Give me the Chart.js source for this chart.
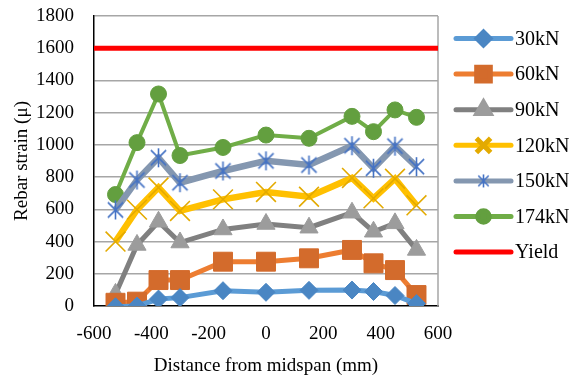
<!DOCTYPE html>
<html>
<head>
<meta charset="utf-8">
<script src="https://cdn.jsdelivr.net/npm/chart.js@4/dist/chart.umd.min.js"></script>
<style>
  body { margin: 0; background: #fff; }
  #wrap { width: 575px; height: 383px; }
</style>
</head>
<body>
<div id="wrap"><canvas id="myChart" width="575" height="383"></canvas></div>
<script>
// gauge positions along the beam (mm from midspan)
let positions = [-525, -450, -375, -300, -150, 0, 150, 300, 375, 450, 525];

// rebar strain readings for each load step
let strain30 = [-5, 0, 43, 52, 95, 85, 97, 99, 90, 65, 15];
let strain60 = [20, 27, 161, 161, 275, 275, 296, 348, 265, 223, 68];
let strain90 = [75, 379, 523, 394, 475, 509, 486, 579, 461, 513, 348];
let strain120 = [400, 598, 735, 590, 662, 708, 678, 795, 668, 790, 625];
let strain150 = [596, 782, 920, 765, 838, 901, 875, 995, 855, 992, 865];
let strain174 = [692, 1014, 1316, 934, 984, 1061, 1041, 1177, 1082, 1217, 1171];

// yield strain, drawn across the whole span
let yieldX = [-600, 600];
let yieldStrain = [1600, 1600];

let xTicks = [-600, -400, -200, 0, 200, 400, 600];
let yTicks = [0, 200, 400, 600, 800, 1000, 1200, 1400, 1600, 1800];

function toPoints(xs, ys) {
    let pts = [];
    for (let i = 0; i < xs.length; i++) {
        pts.push({x: xs[i], y: ys[i]});
    }
    return pts
}

// asterisk marker: vertical stroke plus an X
function makeStar(size, color) {
    let c = document.createElement('canvas');
    c.width = size;
    c.height = size;
    let g = c.getContext('2d');
    let h = size / 2;
    let a = h - 1;
    g.strokeStyle = color;
    g.lineWidth = 1.6;
    g.beginPath();
    g.moveTo(h, h - a); g.lineTo(h, h + a);
    g.moveTo(h - a * 0.8, h - a * 0.8); g.lineTo(h + a * 0.8, h + a * 0.8);
    g.moveTo(h + a * 0.8, h - a * 0.8); g.lineTo(h - a * 0.8, h + a * 0.8);
    g.stroke();
    return c
}

const FONT = 'Liberation Serif';

function series(label, ys, line, marker, style, radius, width, extra) {
    return Object.assign({
        label: label,
        data: toPoints(positions, ys),
        borderColor: line,
        backgroundColor: marker,
        pointBackgroundColor: marker,
        pointBorderColor: marker,
        pointStyle: style,
        pointRadius: radius,
        pointHoverRadius: radius,
        pointBorderWidth: 1,
        borderWidth: width,
        tension: 0
    }, extra || {});
}

// right edge of the plot frame
const frame = {
    id: 'frame',
    beforeDatasetsDraw(chart) {
        let a = chart.chartArea;
        let ctx = chart.ctx;
        ctx.save();
        ctx.strokeStyle = '#a6a6a6';
        ctx.lineWidth = 1.5;
        ctx.beginPath();
        ctx.moveTo(a.right, a.top);
        ctx.lineTo(a.right, a.bottom);
        ctx.stroke();
        ctx.restore();
    }
};

// legend on the right: short line with the marker in the middle
const sideLegend = {
    id: 'sideLegend',
    afterDraw(chart) {
        let ctx = chart.ctx;
        let x0 = chart.chartArea.right + 18;
        let x1 = x0 + 55;
        let top = 38.5;
        let step = 35.6;
        ctx.save();
        chart.data.datasets.forEach(function (ds, i) {
            let y = top + i * step;
            ctx.strokeStyle = ds.borderColor;
            ctx.lineWidth = 5;
            ctx.lineCap = 'round';
            ctx.beginPath();
            ctx.moveTo(x0, y);
            ctx.lineTo(x1, y);
            ctx.stroke();
            ctx.lineCap = 'butt';
            if (ds.pointRadius > 0) {
                ctx.fillStyle = ds.pointBackgroundColor;
                ctx.strokeStyle = ds.pointBorderColor;
                let st = ds.legendStyle || ds.pointStyle;
                Chart.helpers.drawPoint(ctx, {
                    pointStyle: st,
                    radius: ds.pointRadius * 0.72,
                    rotation: 0,
                    borderWidth: ds.pointBorderWidth
                }, (x0 + x1) / 2, y);
            }
            ctx.fillStyle = '#000';
            ctx.font = '20px "' + FONT + '"';
            ctx.textBaseline = 'middle';
            ctx.textAlign = 'left';
            ctx.fillText(ds.label, x1 + 4, y + 1);
        });
        ctx.restore();
    }
};

let ctx = document.getElementById('myChart').getContext('2d');
let myChart = new Chart(ctx, {
    type: 'line',
    data: {
        datasets: [
            series('30kN', strain30, '#5b9bd5', '#4a86c3', 'rectRot', 9, 5),
            series('60kN', strain60, '#ed7d31', '#d36b2c', 'rect', 13.4, 5),
            series('90kN', strain90, '#808080', '#9c9c9c', 'triangle', 10.5, 5),
            series('120kN', strain120, '#ffc000', '#e3aa00', 'crossRot', 14, 6.5, {pointBorderWidth: 1.6}),
            series('150kN', strain150, '#8497b0', '#4472c4', makeStar(21, '#4472c4'), 10, 6.5,
                {legendStyle: makeStar(15, '#4472c4')}),
            series('174kN', strain174, '#70ad47', '#639f3f', 'circle', 8, 4),
            {
                label: 'Yield',
                data: toPoints(yieldX, yieldStrain),
                borderColor: '#ff0000',
                backgroundColor: '#ff0000',
                borderWidth: 5,
                pointRadius: 0,
                tension: 0
            }
        ]
    },
    options: {
        responsive: false,
        animation: false,
        events: [],
        layout: {padding: {left: 0, right: 137, top: 16, bottom: 0}},
        plugins: {
            legend: {display: false},
            tooltip: {enabled: false}
        },
        scales: {
            x: {
                type: 'linear',
                min: -600,
                max: 600,
                afterFit: function (scale) {
                    scale.height = 77;
                    scale.paddingLeft = 0;
                    scale.paddingRight = 0;
                },
                afterBuildTicks: function (scale) {
                    scale.ticks = xTicks.map(function (v) { return {value: v}; });
                },
                ticks: {
                    color: '#000',
                    font: {family: FONT, size: 19},
                    padding: 17,
                    maxRotation: 0,
                    autoSkip: false,
                    callback: function (v) { return String(v); }
                },
                grid: {color: 'transparent', drawTicks: false},
                border: {color: '#000', width: 1.5},
                title: {
                    display: true,
                    text: 'Distance from midspan (mm)',
                    color: '#000',
                    font: {family: FONT, size: 19},
                    padding: {top: 0, bottom: 6}
                }
            },
            y: {
                min: 0,
                max: 1800,
                afterFit: function (scale) {
                    scale.width = 94;
                    scale.paddingTop = 0;
                    scale.paddingBottom = 0;
                },
                afterBuildTicks: function (scale) {
                    scale.ticks = yTicks.map(function (v) { return {value: v}; });
                },
                ticks: {
                    color: '#000',
                    font: {family: FONT, size: 19},
                    padding: 20,
                    callback: function (v) { return String(v); }
                },
                grid: {
                    color: function (c) { return c.tick && c.tick.value === 0 ? 'transparent' : '#a6a6a6'; },
                    lineWidth: 1.5,
                    drawTicks: false
                },
                border: {color: '#000', width: 1.5},
                title: {
                    display: true,
                    text: 'Rebar strain (μ)',
                    color: '#000',
                    font: {family: FONT, size: 19},
                    padding: {top: 11, bottom: 0}
                }
            }
        }
    },
    plugins: [frame, sideLegend]
});
</script>
</body>
</html>
